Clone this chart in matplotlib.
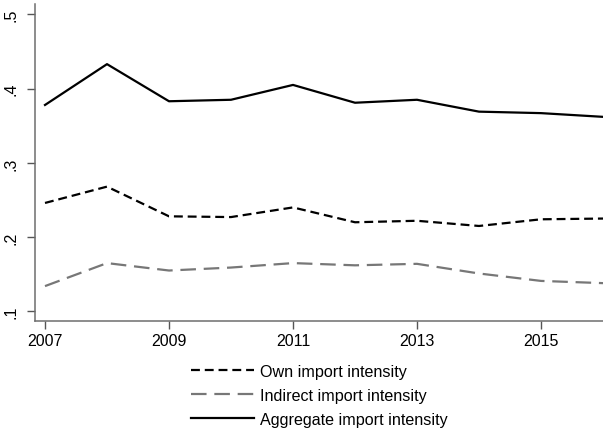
import numpy as np
import matplotlib.pyplot as plt

plt.rcParams['font.family'] = ['Liberation Sans', 'DejaVu Sans']

years = [2007, 2008, 2009, 2010, 2011, 2012, 2013, 2014, 2015, 2016]
own = [0.246, 0.268, 0.228, 0.227, 0.240, 0.220, 0.222, 0.215, 0.224, 0.225]
indirect = [0.134, 0.165, 0.155, 0.159, 0.165, 0.162, 0.164, 0.151, 0.141, 0.138]
aggregate = [0.378, 0.433, 0.383, 0.385, 0.405, 0.381, 0.385, 0.369, 0.367, 0.362]

xticks = [2007, 2009, 2011, 2013, 2015]
yticks = [0.1, 0.2, 0.3, 0.4, 0.5]
ylabels = ['.1', '.2', '.3', '.4', '.5']

fig = plt.figure(figsize=(6.03, 4.31), dpi=100)
ax = fig.add_axes([35/603, 1 - 322/431, 568/603, 317/431])

ax.plot(years, own, color='black', lw=1.6, dashes=(4, 2.2), label='Own import intensity')
ax.plot(years, indirect, color='#777777', lw=1.6, dashes=(7, 3.5), label='Indirect import intensity')
ax.plot(years, aggregate, color='black', lw=1.6, label='Aggregate import intensity')

ax.set_xlim(2007 - 10/62, 2016)
ax.set_ylim(0.087, 0.514)
ax.set_xticks(xticks)
ax.set_xticklabels([str(y) for y in xticks])
ax.set_yticks(yticks)
ax.set_yticklabels(ylabels, rotation=90, va='center')

for s in ['top', 'right']:
    ax.spines[s].set_visible(False)
for s in ['left', 'bottom']:
    ax.spines[s].set_color('#6e6e6e')
    ax.spines[s].set_linewidth(1.1)
ax.tick_params(axis='both', colors='#555555', labelcolor='black', labelsize=11.5, length=6, width=1)
ax.tick_params(axis='x', pad=3)
ax.tick_params(axis='y', pad=6)

# legend sits below the plot, centred on the axes
leg = ax.legend(loc='upper center', bbox_to_anchor=(0.5, -43/317), frameon=False,
                fontsize=11.6, handlelength=3.9, handletextpad=0.37, labelspacing=0.55,
                borderpad=0, borderaxespad=0)

fig.savefig('out.png', dpi=100)
